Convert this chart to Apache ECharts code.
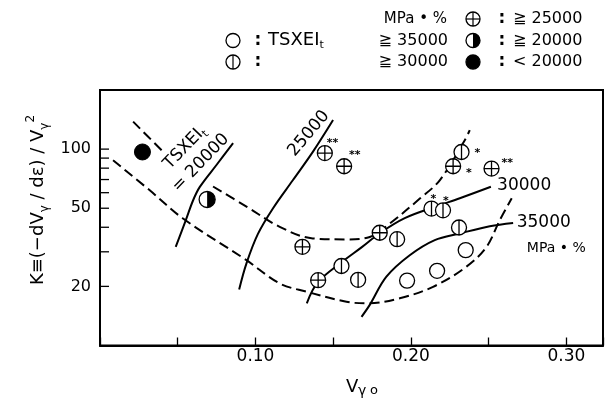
<!DOCTYPE html>
<html><head><meta charset="utf-8">
<script src="https://cdn.jsdelivr.net/npm/echarts@6/dist/echarts.min.js"></script>
<style>html,body{margin:0;padding:0;background:#fff}#c{width:615px;height:409px}</style>
</head><body><div id="c"></div>
<script>
// ---------- data ----------
const xTickLabels = ['0.10', '0.20', '0.30'];
const yTickLabels = [20, 50, 100];
const yTickMarks = [20, 30, 40, 50, 60, 70, 80, 90, 100];

// ○ : TSXEIt >= 35000
const ptsOpen = [[0.2352, 30.6], [0.2168, 24.0], [0.1975, 21.4]];
// ⦶ : >= 30000
const ptsVbar = [[0.2325, 96.7], [0.2132, 49.8], [0.2206, 48.8], [0.1911, 34.8], [0.2309, 39.9], [0.1553, 25.4], [0.1660, 21.6]];
const ptsVbarNotes = ['*', '*', '*', '', '', '', ''];
// ⊕ : >= 25000
const ptsPlus = [[0.1446, 95.5], [0.1570, 81.8], [0.2271, 81.8], [0.2518, 79.6], [0.1799, 37.5], [0.1302, 31.8], [0.1403, 21.5]];
const ptsPlusNotes = ['**', '**', '*', '**', '', '', ''];
// ◑ : >= 20000
const ptsHalf = [[0.0689, 55.4]];
// ● : < 20000
const ptsFilled = [[0.0273, 96.7]];

// iso-TSXEIt curves (solid)
const curve20000 = [[0.0487, 31.8], [0.0552, 43.5], [0.0599, 54.9], [0.0642, 64.2], [0.0749, 83.0], [0.0856, 107.4]];
const curve25000 = [[0.0895, 19.3], [0.0942, 26.2], [0.1015, 36.9], [0.1113, 50.0], [0.1240, 69.4], [0.1370, 97.1], [0.1499, 140.6]];
const curve30000 = [[0.1330, 16.4], [0.1401, 21.0], [0.1555, 26.6], [0.1684, 31.7], [0.1799, 37.3], [0.1960, 44.5], [0.2166, 51.2], [0.2314, 56.2], [0.2514, 64.3]];
const curve35000 = [[0.1682, 14.0], [0.1735, 16.1], [0.1842, 22.4], [0.1992, 28.8], [0.2153, 34.4], [0.2314, 37.2], [0.2507, 40.5], [0.2657, 42.1]];
// dashed envelopes
const upperDashA = [[0.0213, 138], [0.0397, 98.6]];
const upperDashB = [[0.0727, 64.5], [0.0942, 51.0], [0.1156, 40.2], [0.1368, 35.1], [0.1585, 34.7], [0.1735, 35.7], [0.1864, 41.8], [0.2057, 56.0], [0.2185, 69.4], [0.2346, 111], [0.2378, 125]];
const lowerDash = [[0.0084, 87.7], [0.0320, 61.7], [0.0534, 44.3], [0.0942, 27.2], [0.1156, 20.7], [0.1328, 18.8], [0.1585, 16.7], [0.1722, 16.4], [0.1928, 17.4], [0.2142, 19.9], [0.2357, 25.2], [0.2486, 31.8], [0.2571, 43.5], [0.2648, 56.2]];

// ---------- style ----------
const FONT = "'DejaVu Sans', 'Noto Sans CJK JP', sans-serif";
const INK = '#000';
const plusNoteOffset = [[2, -10], [5, -11], [13, 7], [10, -5]];
const vbarNoteOffset = [[13, 1], [-1, -9], [0, -9]];

const circ = 'M10,0A10,10,0,1,1,-10,0A10,10,0,1,1,10,0Z';
const symPlus = 'path://' + circ + 'M0,-10L0,10M-10,0L10,0';
const symVbar = 'path://' + circ + 'M0,-10L0,10';

function curve(data, dashed) {
  return {
    type: 'line', data: data, smooth: 0.35, showSymbol: false, symbol: 'none', silent: true, z: 2,
    lineStyle: { color: INK, width: 2, type: dashed ? [10, 5] : 'solid' }
  };
}
function withNotes(pts, notes, offs) {
  return pts.map((v, i) => {
    const o = { value: v };
    if (notes[i]) {
      o.label = {
        show: true, formatter: notes[i], position: 'inside', align: 'left', verticalAlign: 'middle',
        offset: offs[i], color: INK, fontFamily: FONT, fontSize: 11, fontWeight: 'bold'
      };
    }
    return o;
  });
}
const ptStyle = { color: '#fff', borderColor: INK, borderWidth: 1.3, opacity: 1 };

const chart = echarts.init(document.getElementById('c'), null, { renderer: 'canvas' });
chart.setOption({
  animation: false,
  backgroundColor: '#fff',
  grid: { left: 100, right: 12, top: 90, bottom: 63.5, show: true, borderColor: INK, borderWidth: 2 },
  xAxis: {
    type: 'value', min: 0, max: 0.3235, interval: 0.05,
    axisLine: { lineStyle: { color: INK, width: 2 } },
    axisTick: { inside: true, length: 8, lineStyle: { color: INK, width: 1.3 } },
    axisLabel: {
      color: INK, fontFamily: FONT, fontSize: 17, margin: 3,
      formatter: v => { const s = v.toFixed(2); return xTickLabels.includes(s) ? s : ''; }
    },
    splitLine: { show: false }
  },
  yAxis: {
    type: 'log', logBase: 10, min: 10, max: 200,
    axisLine: { show: true, lineStyle: { color: INK, width: 2 } },
    axisTick: { show: false },
    axisLabel: { customValues: yTickLabels, color: INK, fontFamily: FONT, fontSize: 16, margin: 9, formatter: v => String(v) },
    splitLine: { show: false }, minorTick: { show: false }
  },
  series: [
    // y-axis tick marks placed through the log scale
    {
      type: 'custom', data: yTickMarks.map(v => [0, v]), z: 6, silent: true, clip: false,
      renderItem: function (params, api) {
        const c = api.coord([api.value(0), api.value(1)]);
        return { type: 'line', shape: { x1: c[0], y1: c[1], x2: c[0] + 9, y2: c[1] }, style: { stroke: INK, lineWidth: 1.3 } };
      }
    },
    curve(curve20000, false), curve(curve25000, false), curve(curve30000, false), curve(curve35000, false),
    curve(upperDashA, true), curve(upperDashB, true), curve(lowerDash, true),
    { type: 'scatter', data: ptsOpen, symbol: 'circle', symbolSize: 15, itemStyle: ptStyle, z: 5, silent: true },
    { type: 'scatter', data: withNotes(ptsVbar, ptsVbarNotes, vbarNoteOffset), symbol: symVbar, symbolSize: 15, itemStyle: ptStyle, z: 5, silent: true },
    { type: 'scatter', data: withNotes(ptsPlus, ptsPlusNotes, plusNoteOffset), symbol: symPlus, symbolSize: 15, itemStyle: ptStyle, z: 5, silent: true },
    { type: 'scatter', data: ptsFilled, symbol: 'circle', symbolSize: 16, itemStyle: { color: INK, borderColor: INK, borderWidth: 1, opacity: 1 }, z: 5, silent: true },
    {
      type: 'custom', data: ptsHalf, z: 5, silent: true,
      renderItem: function (params, api) {
        const c = api.coord([api.value(0), api.value(1)]);
        const r = 8;
        return {
          type: 'group', children: [
            { type: 'circle', shape: { cx: c[0], cy: c[1], r: r }, style: { fill: '#fff', stroke: INK, lineWidth: 1.3 } },
            { type: 'sector', shape: { cx: c[0], cy: c[1], r0: 0, r: r, startAngle: -Math.PI / 2, endAngle: Math.PI / 2 }, style: { fill: INK } }
          ]
        };
      }
    }
  ]
});

// ---------- annotations ----------
const P = (x, y) => chart.convertToPixel({ xAxisIndex: 0, yAxisIndex: 0 }, [x, y]);
function txt(text, pos, opt) {
  return {
    type: 'text', x: pos[0], y: pos[1], z: 10, silent: true,
    style: Object.assign({ text: text, fill: INK, font: '17px ' + FONT, align: 'left', verticalAlign: 'middle' }, opt || {})
  };
}
const g = [];
const a30 = P(0.2554, 65.5), a35 = P(0.2680, 42.4), aMPa = P(0.2745, 31.3), a25 = P(0.1343, 120), aTS = P(0.0597, 93.0);
g.push(txt('30000', a30));
g.push(txt('35000', a35));
g.push(txt('MPa • %', aMPa, { font: '14px ' + FONT }));
g.push(Object.assign(txt('25000', a25, { align: 'center' }), { rotation: 50 * Math.PI / 180 }));
g.push(Object.assign(txt('{a|TSXEI}{s|t}\n{a|= 20000}', aTS, {
  align: 'center', lineHeight: 22,
  rich: { a: { font: '17px ' + FONT, fill: INK, lineHeight: 22 }, s: { font: '11px ' + FONT, fill: INK, verticalAlign: 'bottom', lineHeight: 18 } }
}), { rotation: 46 * Math.PI / 180 }));

// axis titles
g.push(txt('V', [346, 387], { font: '18px ' + FONT }));
g.push(txt('γ', [358, 391], { font: '14px ' + FONT }));
g.push(txt('o', [370, 391], { font: '13px ' + FONT }));
g.push(Object.assign(txt('{n|K≡(−dV}{s|γ}{n| / dε) / V}{s|γ}{p|2}', [38, 200], {
  align: 'center',
  rich: {
    n: { font: '18px ' + FONT, fill: INK, lineHeight: 26 },
    s: { font: '12px ' + FONT, fill: INK, verticalAlign: 'bottom', lineHeight: 20 },
    p: { font: '12px ' + FONT, fill: INK, verticalAlign: 'top', lineHeight: 26 }
  }
}), { rotation: Math.PI / 2 }));

// legend (3 rows)
const rows = [19, 40.5, 62];
function lsym(kind, cx, cy) {
  const r = 7, ls = { stroke: INK, lineWidth: 1.2 };
  const els = [{ type: 'circle', shape: { cx: cx, cy: cy, r: r }, style: { fill: kind === 'filled' ? INK : '#fff', stroke: INK, lineWidth: 1.3 } }];
  if (kind === 'plus' || kind === 'vbar') els.push({ type: 'line', shape: { x1: cx, y1: cy - r, x2: cx, y2: cy + r }, style: ls });
  if (kind === 'plus') els.push({ type: 'line', shape: { x1: cx - r, y1: cy, x2: cx + r, y2: cy }, style: ls });
  if (kind === 'half') els.push({ type: 'sector', shape: { cx: cx, cy: cy, r0: 0, r: r, startAngle: -Math.PI / 2, endAngle: Math.PI / 2 }, style: { fill: INK } });
  return els;
}
const LF = '16px ' + FONT;
g.push(txt('MPa • %', [447, rows[0]], { font: '15px ' + FONT, align: 'right' }));
g.push(...lsym('plus', 473, rows[0]));
g.push(txt(':', [502, rows[0]], { font: 'bold 17px ' + FONT, align: 'center' }));
g.push(txt('≧ 25000', [513, rows[0]], { font: LF }));

g.push(...lsym('open', 233, rows[1]));
g.push(txt(':', [258, rows[1]], { font: 'bold 17px ' + FONT, align: 'center' }));
g.push(txt('{a|TSXEI}{s|t}', [268, rows[1]], { rich: { a: { font: '18px ' + FONT, fill: INK, lineHeight: 20 }, s: { font: '11px ' + FONT, fill: INK, verticalAlign: 'bottom', lineHeight: 16 } } }));
g.push(txt('≧ 35000', [448, rows[1]], { font: LF, align: 'right' }));
g.push(...lsym('half', 473, rows[1]));
g.push(txt(':', [502, rows[1]], { font: 'bold 17px ' + FONT, align: 'center' }));
g.push(txt('≧ 20000', [513, rows[1]], { font: LF }));

g.push(...lsym('vbar', 233, rows[2]));
g.push(txt(':', [258, rows[2]], { font: 'bold 17px ' + FONT, align: 'center' }));
g.push(txt('≧ 30000', [448, rows[2]], { font: LF, align: 'right' }));
g.push(...lsym('filled', 473, rows[2]));
g.push(txt(':', [502, rows[2]], { font: 'bold 17px ' + FONT, align: 'center' }));
g.push(txt('< 20000', [513, rows[2]], { font: LF }));

chart.setOption({ graphic: g });
</script>
</body></html>
